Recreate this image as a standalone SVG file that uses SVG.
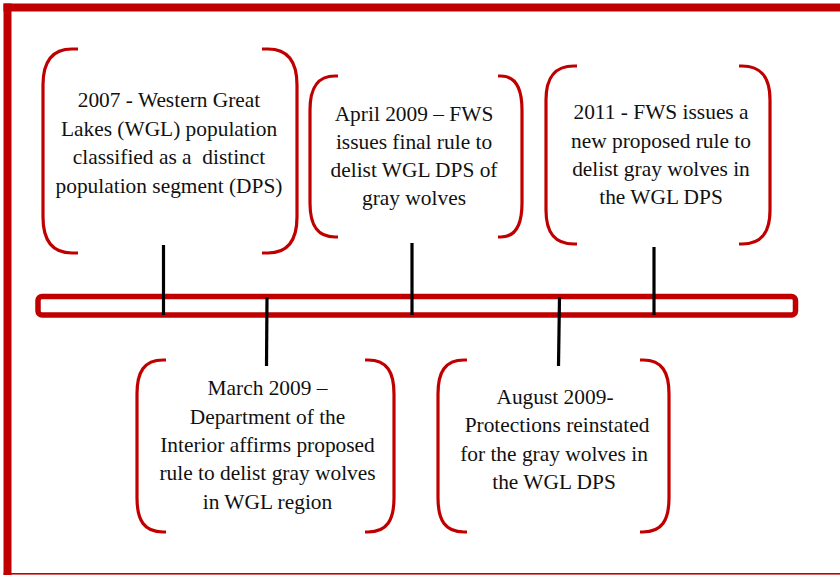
<svg xmlns="http://www.w3.org/2000/svg" width="840" height="575" viewBox="0 0 840 575">
<style>
.frame{fill:#C00000;}
.br{fill:none;stroke:#C00000;stroke-width:3.2;}
.bar{fill:none;stroke:#C00000;stroke-width:5.5;}
.tick{stroke:#000;stroke-width:3.2;}
text{font-family:"Liberation Serif","Times New Roman",serif;font-size:21.4px;fill:#111;text-anchor:middle;}
</style>
<rect width="840" height="575" fill="#fff"/>
<g id="frame">
<rect class="frame" x="3.5" y="3.5" width="836.5" height="8"/>
<rect class="frame" x="3.5" y="3.5" width="8" height="571.5"/>
<rect class="frame" x="3.5" y="573" width="836.5" height="1.6"/>
</g>
<g id="timeline">
<rect class="bar" x="38" y="296.5" width="757.5" height="18.5" rx="4"/>
</g>
<g id="connectors">
<line class="tick" x1="163.5" y1="245" x2="163.5" y2="315"/>
<line class="tick" x1="267" y1="297" x2="266.5" y2="366"/>
<line class="tick" x1="412" y1="243" x2="412" y2="315"/>
<line class="tick" x1="559.5" y1="297" x2="558.5" y2="366"/>
<line class="tick" x1="654" y1="247" x2="654" y2="315"/>
</g>
<g id="node-2007">
<path class="br" d="M78 49 H72 C52 49 43 62 43 85 V217 C43 240 52 253 72 253 H78"/>
<path class="br" d="M262 49 H268 C288 49 297 62 297 85 V217 C297 240 288 253 268 253 H262"/>
<text x="169" y="107">2007 - Western Great</text>
<text x="169" y="135.5">Lakes (WGL) population</text>
<text x="169" y="164" xml:space="preserve">classified as a  distinct</text>
<text x="169" y="192.5">population segment (DPS)</text>
</g>
<g id="node-april2009">
<path class="br" d="M338 76 H335 C317 76 310 88 310 110 V203 C310 225 317 237 335 237 H338"/>
<path class="br" d="M498 76 H501 C515 76 522 88 522 110 V203 C522 225 515 237 501 237 H498"/>
<text x="414" y="120.5">April 2009 – FWS</text>
<text x="414" y="149">issues final rule to</text>
<text x="414" y="177">delist WGL DPS of</text>
<text x="414" y="205">gray wolves</text>
</g>
<g id="node-2011">
<path class="br" d="M577 66 H574 C554 66 546 78 546 100 V210 C546 232 554 244 574 244 H577"/>
<path class="br" d="M739 66 H742 C762 66 770 78 770 100 V210 C770 232 762 244 742 244 H739"/>
<text x="661" y="119">2011 - FWS issues a</text>
<text x="661" y="147.5">new proposed rule to</text>
<text x="661" y="175.5">delist gray wolves in</text>
<text x="661" y="204">the WGL DPS</text>
</g>
<g id="node-march2009">
<path class="br" d="M166 360 H163 C144 360 137 372 137 394 V498 C137 520 144 532 163 532 H166"/>
<path class="br" d="M365 360 H368 C387 360 394 372 394 394 V498 C394 520 387 532 368 532 H365"/>
<text x="267.5" y="395">March 2009 –</text>
<text x="267.5" y="423.5">Department of the</text>
<text x="267.5" y="452">Interior affirms proposed</text>
<text x="267.5" y="480">rule to delist gray wolves</text>
<text x="267.5" y="508.5">in WGL region</text>
</g>
<g id="node-august2009">
<path class="br" d="M467 360 H464 C445 360 438 372 438 394 V498 C438 520 445 532 464 532 H467"/>
<path class="br" d="M640 360 H643 C662 360 669 372 669 394 V498 C669 520 662 532 643 532 H640"/>
<text x="555" y="404">August 2009-</text>
<text x="557" y="432">Protections reinstated</text>
<text x="554" y="460.5">for the gray wolves in</text>
<text x="554" y="489">the WGL DPS</text>
</g>
</svg>
